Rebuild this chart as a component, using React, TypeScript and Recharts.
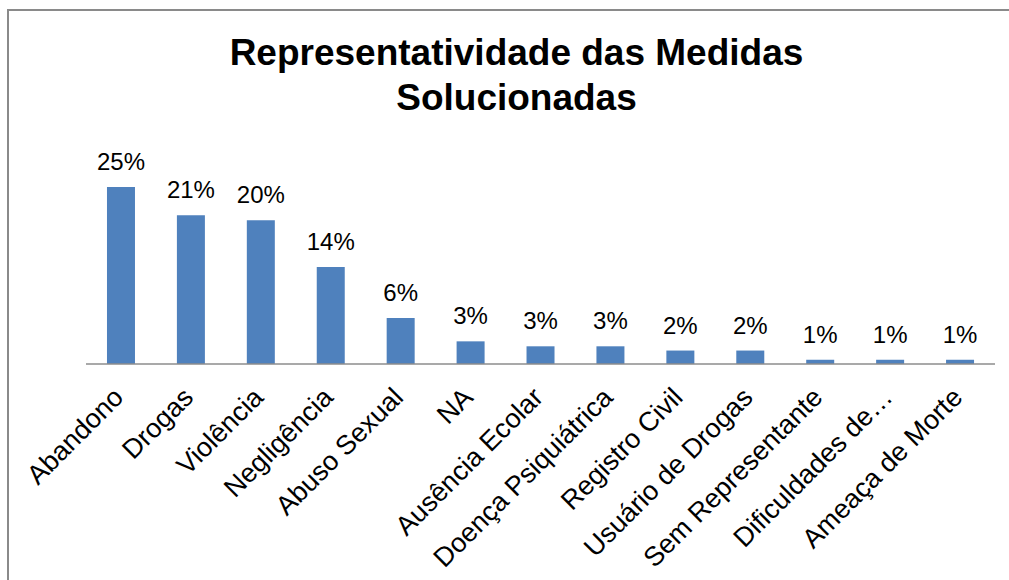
import React from "react";
import { BarChart, Bar, XAxis, YAxis, LabelList } from "recharts";

const categories = [
  "Abandono",
  "Drogas",
  "Violência",
  "Negligência",
  "Abuso Sexual",
  "NA",
  "Ausência Ecolar",
  "Doença Psiquiátrica",
  "Registro Civil",
  "Usuário de Drogas",
  "Sem Representante",
  "Dificuldades de…",
  "Ameaça de Morte",
];

const values = [25, 21, 20.3, 13.7, 6.5, 3.2, 2.5, 2.5, 1.9, 1.9, 0.6, 0.6, 0.6];

const valueLabels = ["25%", "21%", "20%", "14%", "6%", "3%", "3%", "3%", "2%", "2%", "1%", "1%", "1%"];

const titleLines = ["Representatividade das Medidas", "Solucionadas"];

const data = categories.map((name, i) => ({ name, value: values[i], label: valueLabels[i] }));

const FONT = "'Liberation Sans', Arial, sans-serif";

const CategoryTick = (props: any) => {
  const { x, y, payload } = props;
  return (
    <text
      transform={`translate(${x + 4},${y + 27}) rotate(-45)`}
      textAnchor="end"
      fontSize={27}
      fontFamily={FONT}
      fill="#000"
    >
      {payload.value}
    </text>
  );
};

export default function App() {
  return (
    <div
      style={{
        position: "relative",
        width: 1009,
        height: 580,
        overflow: "hidden",
        background: "#fff",
        fontFamily: FONT,
      }}
    >
      <style>{`html,body{margin:0;padding:0;overflow:hidden;background:#fff;}`}</style>
      <svg
        width={1009}
        height={580}
        style={{ position: "absolute", left: 0, top: 0 }}
      >
        <text x={516.5} y={65} textAnchor="middle" fontSize={37} fontWeight="bold" fontFamily={FONT} fill="#000">
          {titleLines[0]}
        </text>
        <text x={516.5} y={110} textAnchor="middle" fontSize={37} fontWeight="bold" fontFamily={FONT} fill="#000">
          {titleLines[1]}
        </text>
      </svg>
      <div style={{ position: "absolute", left: 0, top: 0 }}>
        <BarChart
          width={1009}
          height={580}
          data={data}
          margin={{ top: 187, right: 14, left: 86, bottom: 186 }}
          barCategoryGap="30%"
          accessibilityLayer={false}
        >
          <XAxis
            dataKey="name"
            height={30}
            interval={0}
            tickLine={false}
            axisLine={{ stroke: "#8c8c8c", strokeWidth: 1.5 }}
            tick={<CategoryTick />}
          />
          <YAxis hide domain={[0, 25]} allowDataOverflow />
          <Bar dataKey="value" fill="#4F81BD" isAnimationActive={false}>
            <LabelList
              dataKey="label"
              position="top"
              offset={17}
              fontSize={24}
              fontFamily={FONT}
              fill="#000"
            />
          </Bar>
        </BarChart>
      </div>
      <div
        style={{
          position: "absolute",
          left: 7,
          top: 9,
          width: 1002,
          height: 571,
          borderLeft: "2px solid #8a8a8a",
          borderTop: "2px solid #8a8a8a",
          boxSizing: "border-box",
          pointerEvents: "none",
        }}
      />
    </div>
  );
}
